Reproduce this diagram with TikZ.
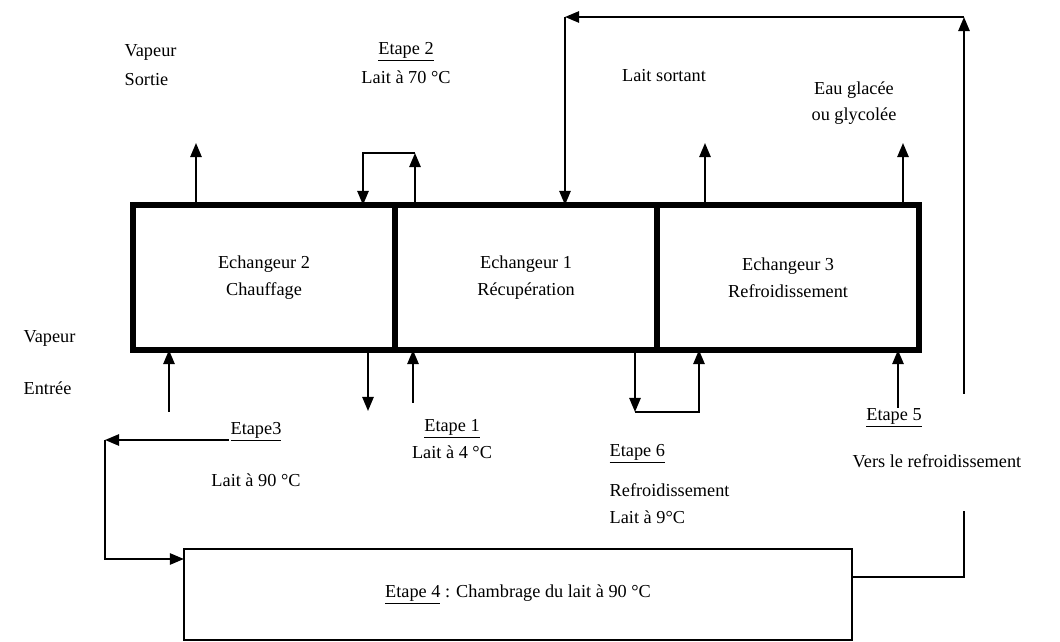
\documentclass[tikz,border=0pt]{standalone}
\usepackage{fontspec}
\setmainfont{Liberation Serif}
\usepackage{tikz}
\usetikzlibrary{arrows.meta, positioning}

\begin{document}
\begin{tikzpicture}[x=0.025cm, y=-0.025cm,
    font=\fontsize{13}{19}\selectfont,
    exch/.style={draw, line width=4.2pt, minimum width=6.55cm, minimum height=3.625cm, inner sep=0pt, outer sep=0pt, align=center},
    flow/.style={line width=1.4pt, -{Triangle[length=10pt, width=8pt]}},
    pipe/.style={line width=1pt},
    lbl/.style={inner sep=1pt}]
  \useasboundingbox (0,0) rectangle (1060,642);
  % echangeurs
  \node[exch] (ech2) at (264,277.5) {Echangeur 2\\Chauffage};
  \node[exch, right=0pt of ech2] (ech1) {Echangeur 1\\Récupération};
  \node[exch, right=0pt of ech1] (ech3) {Echangeur 3\\Refroidissement};
  \node[draw, pipe, minimum width=16.7cm, minimum height=2.275cm, outer sep=0pt] (ch4) at (518,594.5) {\underline{Etape 4} : Chambrage du lait à 90 °C};

  % labels
  \node[lbl, align=left, anchor=west] (vsort) at (123,65) {Vapeur\\[2pt]Sortie};
  \node[lbl, align=center] (et2) at (406,63) {\underline{Etape 2}\\[2pt]Lait à 70 °C};
  \node[lbl] (lsort) at (664,76) {Lait sortant};
  \node[lbl, align=center] (eau) at (854,103) {Eau glacée\\ou glycolée};
  \node[lbl, align=left, anchor=west] (vent) at (22,363) {Vapeur\\[18pt]Entrée};
  \node[lbl] (et3) at (256,432) {\underline{Etape3}};
  \node[lbl] (l90) at (256,480) {Lait à 90 °C};
  \node[lbl, align=center] (et1) at (452,439) {\underline{Etape 1}\\Lait à 4 °C};
  \node[lbl, align=left, anchor=west] (et6) at (608,484) {\underline{Etape 6}\\[10pt]Refroidissement\\Lait à 9°C};
  \node[lbl] (et5) at (894,418) {\underline{Etape 5}};
  \node[lbl] (vers) at (937,461) {Vers le refroidissement};

  % points de passage
  \coordinate (vs) at (196,143);
  \coordinate (ls) at (705,143);
  \coordinate (eg) at (903,143);
  \coordinate (e2a) at (363,153);
  \coordinate (e2b) at (415,153);
  \coordinate (ve) at (169,412);
  \coordinate (l3) at (368,411);
  \coordinate (l1) at (413,403);
  \coordinate (e6a) at (635,412);
  \coordinate (e6b) at (699,412);
  \coordinate (e5) at (898,408);
  \coordinate (g1) at (105,440);
  \coordinate (g2) at (105,559);
  \coordinate (r1) at (964,394);
  \coordinate (r2) at (964,511);
  \coordinate (r3) at (964,577);
  \coordinate (tr) at (964,17);
  \coordinate (tl) at (565,17);

  % fleches
  \draw[flow] (ech2.north -| vs) -- (vs);
  \draw[flow] (ech3.north -| ls) -- (ls);
  \draw[flow] (ech3.north -| eg) -- (eg);
  \draw[flow] (ech1.north -| e2b) -- (e2b);
  \draw[flow] (e2b) -- (e2a) -- (ech2.north -| e2a);
  \draw[flow] (ve) -- (ve |- ech2.south);
  \draw[flow] (ech2.south -| l3) -- (l3);
  \draw[flow] (l1) -- (l1 |- ech1.south);
  \draw[flow] (ech1.south -| e6a) -- (e6a);
  \draw[flow] (e6a) -- (e6b) -- (e6b |- ech3.south);
  \draw[flow] (e5) -- (e5 |- ech3.south);
  \draw[flow] (et3.west |- g1) -- (g1);
  \draw[flow] (g1) -- (g2) -- (g2 -| ch4.west);
  \draw[pipe] (ch4.east |- r3) -- (r3) -- (r2);
  \draw[flow] (r1) -- (tr);
  \draw[flow] (tr) -- (tl);
  \draw[flow] (tl) -- (tl |- ech1.north);
\end{tikzpicture}
\end{document}
